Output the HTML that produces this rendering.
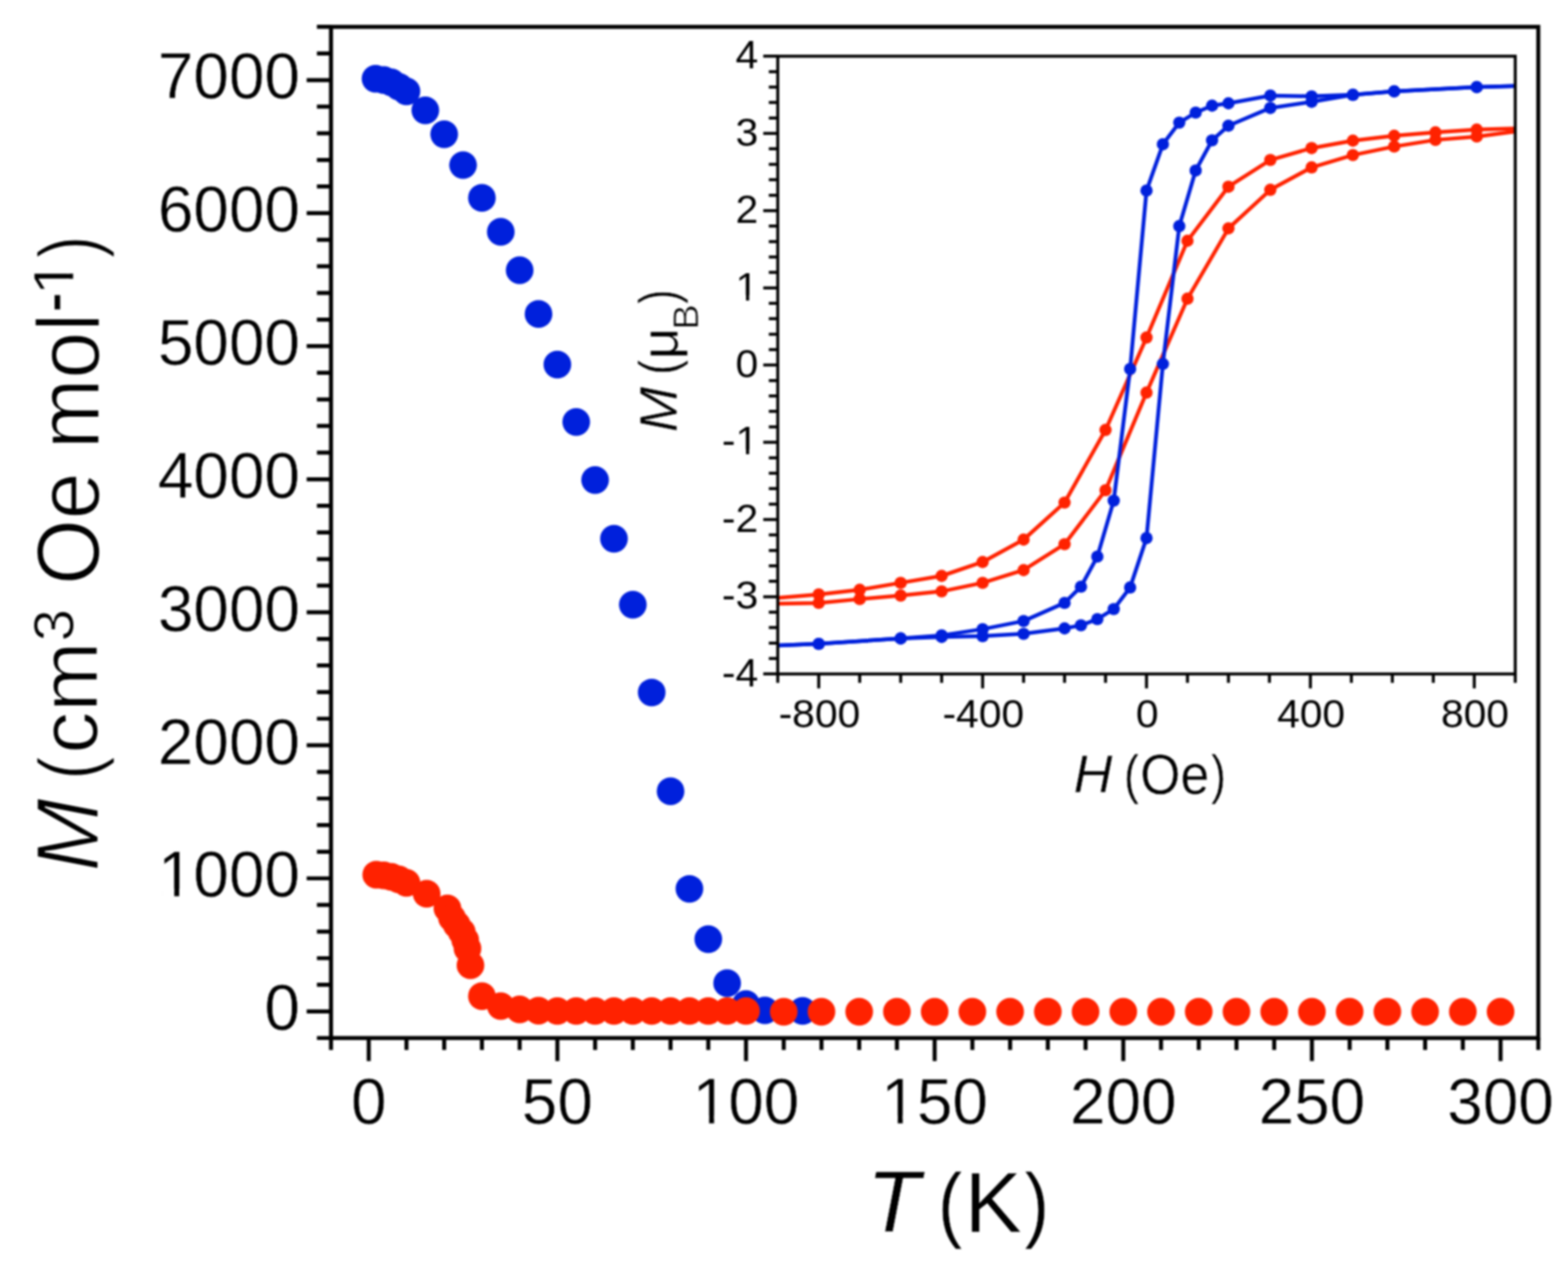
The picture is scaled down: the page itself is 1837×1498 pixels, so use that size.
<!DOCTYPE html>
<html><head><meta charset="utf-8"><title>Magnetization plot</title>
<style>html,body{margin:0;padding:0;background:#fff;width:1837px;height:1498px;overflow:hidden}svg{display:block;filter:blur(1.1px)}text{font-family:"Liberation Sans",Arial,sans-serif;fill:#000;stroke:#fff}.ttl text{stroke-width:1.5px}.ittl text{stroke-width:0.5px}.tk{stroke-width:0.5px}.itk{stroke-width:0px}</style>
</head><body>
<svg width="1837" height="1498" viewBox="0 0 1837 1498">
<rect width="1837" height="1498" fill="#fff"/>
<defs><clipPath id="fc0"><path clip-rule="evenodd" d="M-660,-198H660V198H-660ZM4.51,-8.38H16.95V0.97H4.51ZM22.08,-8.38H34.16V0.97H22.08Z"/></clipPath><clipPath id="fc1"><path clip-rule="evenodd" d="M-720,-216H720V216H-720ZM-155.25,-9.14H-141.68V1.05H-155.25ZM-136.09,-9.14H-122.91V1.05H-136.09Z"/></clipPath><clipPath id="fc2"><path clip-rule="evenodd" d="M-720,-216H720V216H-720ZM-55.14,-9.14H-41.57V1.05H-55.14ZM-35.98,-9.14H-22.80V1.05H-35.98Z"/></clipPath><clipPath id="fc3"><path clip-rule="evenodd" d="M-720,-216H720V216H-720ZM-55.14,-9.14H-41.57V1.05H-55.14ZM-35.98,-9.14H-22.80V1.05H-35.98Z"/></clipPath><clipPath id="fc4"><path clip-rule="evenodd" d="M-464.0,-139.2H464.0V139.2H-464.0ZM-22.63,-5.89H-13.89V0.68H-22.63ZM-10.29,-5.89H-1.79V0.68H-10.29Z"/></clipPath><clipPath id="fc5"><path clip-rule="evenodd" d="M-464.0,-139.2H464.0V139.2H-464.0ZM-22.63,-5.89H-13.89V0.68H-22.63ZM-10.29,-5.89H-1.79V0.68H-10.29Z"/></clipPath></defs>
<rect x="387.80" y="31.46" width="1414.40" height="1184.31" fill="none" stroke="#000" stroke-width="4.7"/>
<path d="M371.30,1215.77H387.80M359.30,1184.60H387.80M371.30,1153.43H387.80M371.30,1122.27H387.80M371.30,1091.10H387.80M371.30,1059.94H387.80M359.30,1028.77H387.80M371.30,997.60H387.80M371.30,966.44H387.80M371.30,935.27H387.80M371.30,904.11H387.80M359.30,872.94H387.80M371.30,841.77H387.80M371.30,810.61H387.80M371.30,779.44H387.80M371.30,748.28H387.80M359.30,717.11H387.80M371.30,685.94H387.80M371.30,654.78H387.80M371.30,623.61H387.80M371.30,592.45H387.80M359.30,561.28H387.80M371.30,530.11H387.80M371.30,498.95H387.80M371.30,467.78H387.80M371.30,436.62H387.80M359.30,405.45H387.80M371.30,374.28H387.80M371.30,343.12H387.80M371.30,311.95H387.80M371.30,280.79H387.80M359.30,249.62H387.80M371.30,218.45H387.80M371.30,187.29H387.80M371.30,156.12H387.80M371.30,124.96H387.80M359.30,93.79H387.80M371.30,62.62H387.80M371.30,31.46H387.80M387.80,1215.77V1229.77M432.00,1215.77V1242.77M476.20,1215.77V1229.77M520.40,1215.77V1229.77M564.60,1215.77V1229.77M608.80,1215.77V1229.77M653.00,1215.77V1242.77M697.20,1215.77V1229.77M741.40,1215.77V1229.77M785.60,1215.77V1229.77M829.80,1215.77V1229.77M874.00,1215.77V1242.77M918.20,1215.77V1229.77M962.40,1215.77V1229.77M1006.60,1215.77V1229.77M1050.80,1215.77V1229.77M1095.00,1215.77V1242.77M1139.20,1215.77V1229.77M1183.40,1215.77V1229.77M1227.60,1215.77V1229.77M1271.80,1215.77V1229.77M1316.00,1215.77V1242.77M1360.20,1215.77V1229.77M1404.40,1215.77V1229.77M1448.60,1215.77V1229.77M1492.80,1215.77V1229.77M1537.00,1215.77V1242.77M1581.20,1215.77V1229.77M1625.40,1215.77V1229.77M1669.60,1215.77V1229.77M1713.80,1215.77V1229.77M1758.00,1215.77V1242.77M1802.20,1215.77V1229.77" stroke="#000" stroke-width="4.7" fill="none"/>
<text transform="translate(351.50,1206.20) scale(1.04,1.06)" class="tk" text-anchor="end" font-size="72">0</text>
<text transform="translate(351.50,1050.37) scale(1.04,1.06)" class="tk" text-anchor="end" font-size="72" clip-path="url(#fc1)">1000</text>
<text transform="translate(351.50,894.54) scale(1.04,1.06)" class="tk" text-anchor="end" font-size="72">2000</text>
<text transform="translate(351.50,738.71) scale(1.04,1.06)" class="tk" text-anchor="end" font-size="72">3000</text>
<text transform="translate(351.50,582.88) scale(1.04,1.06)" class="tk" text-anchor="end" font-size="72">4000</text>
<text transform="translate(351.50,427.05) scale(1.04,1.06)" class="tk" text-anchor="end" font-size="72">5000</text>
<text transform="translate(351.50,271.22) scale(1.04,1.06)" class="tk" text-anchor="end" font-size="72">6000</text>
<text transform="translate(351.50,115.39) scale(1.04,1.06)" class="tk" text-anchor="end" font-size="72">7000</text>
<text transform="translate(432.00,1316.00) scale(1.04,1.06)" class="tk" text-anchor="middle" font-size="72">0</text>
<text transform="translate(653.00,1316.00) scale(1.04,1.06)" class="tk" text-anchor="middle" font-size="72">50</text>
<text transform="translate(874.00,1316.00) scale(1.04,1.06)" class="tk" text-anchor="middle" font-size="72" clip-path="url(#fc2)">100</text>
<text transform="translate(1095.00,1316.00) scale(1.04,1.06)" class="tk" text-anchor="middle" font-size="72" clip-path="url(#fc3)">150</text>
<text transform="translate(1316.00,1316.00) scale(1.04,1.06)" class="tk" text-anchor="middle" font-size="72">200</text>
<text transform="translate(1537.00,1316.00) scale(1.04,1.06)" class="tk" text-anchor="middle" font-size="72">250</text>
<text transform="translate(1758.00,1316.00) scale(1.04,1.06)" class="tk" text-anchor="middle" font-size="72">300</text>
<g class="ttl"><text transform="translate(115.40,1020.79) rotate(-90) scale(1.0300,1.0435)" font-size="100" font-style="italic">M</text>
<text transform="translate(113.97,913.41) rotate(-90) scale(0.8346,0.9777)" font-size="100">(</text>
<text transform="translate(114.44,882.84) rotate(-90) scale(0.9846,0.9618)" font-size="100">cm</text>
<text transform="translate(85.70,751.30) rotate(-90) scale(1.0323,1.0109)" font-size="66" style="stroke-width:1.0px">3</text>
<text transform="translate(116.27,685.04) rotate(-90) scale(0.9881,1.0338)" font-size="100">Oe mol</text>
<text transform="translate(91.50,366.08) rotate(-90) scale(1.0938,1.4400)" font-size="66" style="stroke-width:0.6px">-</text>
<text transform="translate(86.10,345.86) rotate(-90) scale(1.1438,1.0174)" font-size="66" style="stroke-width:0.6px" clip-path="url(#fc0)">1</text>
<text transform="translate(113.97,302.40) rotate(-90) scale(0.8000,0.9777)" font-size="100">)</text>
<text transform="translate(1015.69,1442.60) scale(1.0121,1.0261)" font-size="100" font-style="italic" style="stroke-width:0.5px">T</text>
<text transform="translate(1098.83,1442.71) scale(0.8615,0.9851)" font-size="100" style="stroke-width:0.5px">(</text>
<text transform="translate(1129.96,1442.50) scale(1.0053,1.0101)" font-size="100" style="stroke-width:0.5px">K</text>
<text transform="translate(1200.13,1442.71) scale(0.8692,0.9851)" font-size="100" style="stroke-width:0.5px">)</text></g>
<g fill="#0020dc"><circle cx="439.96" cy="92.23" r="16.2"/><circle cx="449.68" cy="93.79" r="16.2"/><circle cx="458.52" cy="96.44" r="16.2"/><circle cx="467.36" cy="101.58" r="16.2"/><circle cx="476.20" cy="107.04" r="16.2"/><circle cx="498.30" cy="129.32" r="16.2"/><circle cx="520.40" cy="157.21" r="16.2"/><circle cx="542.50" cy="193.37" r="16.2"/><circle cx="564.60" cy="231.70" r="16.2"/><circle cx="586.70" cy="271.44" r="16.2"/><circle cx="608.80" cy="316.47" r="16.2"/><circle cx="630.90" cy="367.74" r="16.2"/><circle cx="653.00" cy="426.95" r="16.2"/><circle cx="675.10" cy="494.27" r="16.2"/><circle cx="697.20" cy="562.21" r="16.2"/><circle cx="719.30" cy="630.94" r="16.2"/><circle cx="741.40" cy="708.23" r="16.2"/><circle cx="763.50" cy="811.08" r="16.2"/><circle cx="785.60" cy="926.70" r="16.2"/><circle cx="807.70" cy="1041.08" r="16.2"/><circle cx="829.80" cy="1099.98" r="16.2"/><circle cx="851.90" cy="1151.56" r="16.2"/><circle cx="874.00" cy="1176.03" r="16.2"/><circle cx="896.10" cy="1183.35" r="16.2"/><circle cx="940.30" cy="1183.98" r="16.2"/></g>
<g fill="#ff2200"><circle cx="440.80" cy="1024.50" r="16.2"/><circle cx="449.70" cy="1025.30" r="16.2"/><circle cx="458.50" cy="1027.00" r="16.2"/><circle cx="467.40" cy="1030.00" r="16.2"/><circle cx="476.20" cy="1034.00" r="16.2"/><circle cx="499.90" cy="1046.80" r="16.2"/><circle cx="524.20" cy="1064.00" r="16.2"/><circle cx="529.50" cy="1075.00" r="16.2"/><circle cx="535.00" cy="1083.00" r="16.2"/><circle cx="541.00" cy="1091.50" r="16.2"/><circle cx="545.00" cy="1101.00" r="16.2"/><circle cx="547.70" cy="1111.00" r="16.2"/><circle cx="551.20" cy="1130.50" r="16.2"/><circle cx="564.60" cy="1166.68" r="16.2"/><circle cx="586.70" cy="1178.37" r="16.2"/><circle cx="608.80" cy="1182.26" r="16.2"/><circle cx="630.90" cy="1183.82" r="16.2"/><circle cx="653.00" cy="1184.13" r="16.2"/><circle cx="675.10" cy="1184.13" r="16.2"/><circle cx="697.20" cy="1184.13" r="16.2"/><circle cx="719.30" cy="1184.13" r="16.2"/><circle cx="741.40" cy="1184.13" r="16.2"/><circle cx="763.50" cy="1184.13" r="16.2"/><circle cx="785.60" cy="1184.13" r="16.2"/><circle cx="807.70" cy="1184.13" r="16.2"/><circle cx="829.80" cy="1184.13" r="16.2"/><circle cx="851.90" cy="1184.13" r="16.2"/><circle cx="874.00" cy="1184.13" r="16.2"/><circle cx="918.20" cy="1185.07" r="16.2"/><circle cx="962.40" cy="1185.07" r="16.2"/><circle cx="1006.60" cy="1185.07" r="16.2"/><circle cx="1050.80" cy="1185.07" r="16.2"/><circle cx="1095.00" cy="1185.07" r="16.2"/><circle cx="1139.20" cy="1185.07" r="16.2"/><circle cx="1183.40" cy="1185.07" r="16.2"/><circle cx="1227.60" cy="1185.07" r="16.2"/><circle cx="1271.80" cy="1185.07" r="16.2"/><circle cx="1316.00" cy="1185.07" r="16.2"/><circle cx="1360.20" cy="1185.07" r="16.2"/><circle cx="1404.40" cy="1185.07" r="16.2"/><circle cx="1448.60" cy="1185.07" r="16.2"/><circle cx="1492.80" cy="1185.07" r="16.2"/><circle cx="1537.00" cy="1185.07" r="16.2"/><circle cx="1581.20" cy="1185.07" r="16.2"/><circle cx="1625.40" cy="1185.07" r="16.2"/><circle cx="1669.60" cy="1185.07" r="16.2"/><circle cx="1713.80" cy="1185.07" r="16.2"/><circle cx="1758.00" cy="1185.07" r="16.2"/></g>
<rect x="911.20" y="65.84" width="864.00" height="723.52" fill="#fff" stroke="none"/>
<clipPath id="ic"><rect x="911.20" y="65.84" width="864.00" height="723.52"/></clipPath>
<g clip-path="url(#ic)"><polyline points="1775.20,150.40 1730.08,151.76 1681.72,155.01 1633.36,158.99 1585.00,164.78 1536.64,173.46 1488.28,187.39 1439.20,218.68 1391.20,281.99 1343.20,395.31 1295.20,503.57 1247.20,588.58 1199.20,631.99 1151.20,658.22 1103.20,674.50 1055.20,682.64 1007.20,690.78 959.20,696.21 911.20,700.28" fill="none" stroke="#ff2200" stroke-width="4.5" stroke-linejoin="round"/><circle cx="1730.08" cy="151.76" r="7.2" fill="#ff2200"/><circle cx="1681.72" cy="155.01" r="7.2" fill="#ff2200"/><circle cx="1633.36" cy="158.99" r="7.2" fill="#ff2200"/><circle cx="1585.00" cy="164.78" r="7.2" fill="#ff2200"/><circle cx="1536.64" cy="173.46" r="7.2" fill="#ff2200"/><circle cx="1488.28" cy="187.39" r="7.2" fill="#ff2200"/><circle cx="1439.20" cy="218.68" r="7.2" fill="#ff2200"/><circle cx="1391.20" cy="281.99" r="7.2" fill="#ff2200"/><circle cx="1343.20" cy="395.31" r="7.2" fill="#ff2200"/><circle cx="1295.20" cy="503.57" r="7.2" fill="#ff2200"/><circle cx="1247.20" cy="588.58" r="7.2" fill="#ff2200"/><circle cx="1199.20" cy="631.99" r="7.2" fill="#ff2200"/><circle cx="1151.20" cy="658.22" r="7.2" fill="#ff2200"/><circle cx="1103.20" cy="674.50" r="7.2" fill="#ff2200"/><circle cx="1055.20" cy="682.64" r="7.2" fill="#ff2200"/><circle cx="1007.20" cy="690.78" r="7.2" fill="#ff2200"/><circle cx="959.20" cy="696.21" r="7.2" fill="#ff2200"/><polyline points="911.20,707.06 959.20,706.16 1007.20,701.63 1055.20,697.56 1103.20,692.59 1151.20,682.64 1199.20,667.72 1247.20,637.42 1295.20,574.11 1343.20,459.80 1391.20,349.82 1439.20,267.52 1488.28,222.30 1536.64,196.07 1585.00,181.60 1633.36,171.65 1681.72,163.88 1730.08,159.90 1775.20,154.02" fill="none" stroke="#ff2200" stroke-width="4.5" stroke-linejoin="round"/><circle cx="959.20" cy="706.16" r="7.2" fill="#ff2200"/><circle cx="1007.20" cy="701.63" r="7.2" fill="#ff2200"/><circle cx="1055.20" cy="697.56" r="7.2" fill="#ff2200"/><circle cx="1103.20" cy="692.59" r="7.2" fill="#ff2200"/><circle cx="1151.20" cy="682.64" r="7.2" fill="#ff2200"/><circle cx="1199.20" cy="667.72" r="7.2" fill="#ff2200"/><circle cx="1247.20" cy="637.42" r="7.2" fill="#ff2200"/><circle cx="1295.20" cy="574.11" r="7.2" fill="#ff2200"/><circle cx="1343.20" cy="459.80" r="7.2" fill="#ff2200"/><circle cx="1391.20" cy="349.82" r="7.2" fill="#ff2200"/><circle cx="1439.20" cy="267.52" r="7.2" fill="#ff2200"/><circle cx="1488.28" cy="222.30" r="7.2" fill="#ff2200"/><circle cx="1536.64" cy="196.07" r="7.2" fill="#ff2200"/><circle cx="1585.00" cy="181.60" r="7.2" fill="#ff2200"/><circle cx="1633.36" cy="171.65" r="7.2" fill="#ff2200"/><circle cx="1681.72" cy="163.88" r="7.2" fill="#ff2200"/><circle cx="1730.08" cy="159.90" r="7.2" fill="#ff2200"/><polyline points="1775.20,100.66 1730.08,102.02 1633.36,106.99 1585.00,111.06 1536.64,112.87 1488.28,111.96 1439.20,121.01 1420.00,123.72 1400.80,131.86 1381.60,143.62 1362.40,168.94 1343.20,223.21 1324.00,432.12 1304.80,586.41 1285.60,651.89 1266.40,687.16 1247.20,706.16 1199.20,727.41 1151.20,736.90 1103.20,744.14 1055.20,747.76 959.20,754.09 911.20,755.90" fill="none" stroke="#0020dc" stroke-width="4.5" stroke-linejoin="round"/><circle cx="1730.08" cy="102.02" r="7.2" fill="#0020dc"/><circle cx="1633.36" cy="106.99" r="7.2" fill="#0020dc"/><circle cx="1585.00" cy="111.06" r="7.2" fill="#0020dc"/><circle cx="1536.64" cy="112.87" r="7.2" fill="#0020dc"/><circle cx="1488.28" cy="111.96" r="7.2" fill="#0020dc"/><circle cx="1439.20" cy="121.01" r="7.2" fill="#0020dc"/><circle cx="1420.00" cy="123.72" r="7.2" fill="#0020dc"/><circle cx="1400.80" cy="131.86" r="7.2" fill="#0020dc"/><circle cx="1381.60" cy="143.62" r="7.2" fill="#0020dc"/><circle cx="1362.40" cy="168.94" r="7.2" fill="#0020dc"/><circle cx="1343.20" cy="223.21" r="7.2" fill="#0020dc"/><circle cx="1324.00" cy="432.12" r="7.2" fill="#0020dc"/><circle cx="1304.80" cy="586.41" r="7.2" fill="#0020dc"/><circle cx="1285.60" cy="651.89" r="7.2" fill="#0020dc"/><circle cx="1266.40" cy="687.16" r="7.2" fill="#0020dc"/><circle cx="1247.20" cy="706.16" r="7.2" fill="#0020dc"/><circle cx="1199.20" cy="727.41" r="7.2" fill="#0020dc"/><circle cx="1151.20" cy="736.90" r="7.2" fill="#0020dc"/><circle cx="1103.20" cy="744.14" r="7.2" fill="#0020dc"/><circle cx="1055.20" cy="747.76" r="7.2" fill="#0020dc"/><circle cx="959.20" cy="754.09" r="7.2" fill="#0020dc"/><polyline points="911.20,755.90 959.20,754.09 1055.20,747.76 1103.20,745.95 1151.20,745.04 1199.20,742.33 1247.20,736.00 1266.40,732.38 1285.60,725.15 1304.80,713.39 1324.00,688.07 1343.20,630.19 1362.40,426.24 1381.60,264.81 1400.80,199.69 1420.00,164.42 1439.20,147.24 1488.28,126.43 1536.64,119.20 1585.00,111.06 1633.36,106.99 1730.08,102.02 1775.20,100.66" fill="none" stroke="#0020dc" stroke-width="4.5" stroke-linejoin="round"/><circle cx="959.20" cy="754.09" r="7.2" fill="#0020dc"/><circle cx="1055.20" cy="747.76" r="7.2" fill="#0020dc"/><circle cx="1103.20" cy="745.95" r="7.2" fill="#0020dc"/><circle cx="1151.20" cy="745.04" r="7.2" fill="#0020dc"/><circle cx="1199.20" cy="742.33" r="7.2" fill="#0020dc"/><circle cx="1247.20" cy="736.00" r="7.2" fill="#0020dc"/><circle cx="1266.40" cy="732.38" r="7.2" fill="#0020dc"/><circle cx="1285.60" cy="725.15" r="7.2" fill="#0020dc"/><circle cx="1304.80" cy="713.39" r="7.2" fill="#0020dc"/><circle cx="1324.00" cy="688.07" r="7.2" fill="#0020dc"/><circle cx="1343.20" cy="630.19" r="7.2" fill="#0020dc"/><circle cx="1362.40" cy="426.24" r="7.2" fill="#0020dc"/><circle cx="1381.60" cy="264.81" r="7.2" fill="#0020dc"/><circle cx="1400.80" cy="199.69" r="7.2" fill="#0020dc"/><circle cx="1420.00" cy="164.42" r="7.2" fill="#0020dc"/><circle cx="1439.20" cy="147.24" r="7.2" fill="#0020dc"/><circle cx="1488.28" cy="126.43" r="7.2" fill="#0020dc"/><circle cx="1536.64" cy="119.20" r="7.2" fill="#0020dc"/><circle cx="1585.00" cy="111.06" r="7.2" fill="#0020dc"/><circle cx="1633.36" cy="106.99" r="7.2" fill="#0020dc"/><circle cx="1730.08" cy="102.02" r="7.2" fill="#0020dc"/></g>
<rect x="911.20" y="65.84" width="864.00" height="723.52" fill="none" stroke="#000" stroke-width="3.5"/>
<path d="M894.20,789.36H911.20M900.70,771.27H911.20M900.70,753.18H911.20M900.70,735.10H911.20M900.70,717.01H911.20M894.20,698.92H911.20M900.70,680.83H911.20M900.70,662.74H911.20M900.70,644.66H911.20M900.70,626.57H911.20M894.20,608.48H911.20M900.70,590.39H911.20M900.70,572.30H911.20M900.70,554.22H911.20M900.70,536.13H911.20M894.20,518.04H911.20M900.70,499.95H911.20M900.70,481.86H911.20M900.70,463.78H911.20M900.70,445.69H911.20M894.20,427.60H911.20M900.70,409.51H911.20M900.70,391.42H911.20M900.70,373.34H911.20M900.70,355.25H911.20M894.20,337.16H911.20M900.70,319.07H911.20M900.70,300.98H911.20M900.70,282.90H911.20M900.70,264.81H911.20M894.20,246.72H911.20M900.70,228.63H911.20M900.70,210.54H911.20M900.70,192.46H911.20M900.70,174.37H911.20M894.20,156.28H911.20M900.70,138.19H911.20M900.70,120.10H911.20M900.70,102.02H911.20M900.70,83.93H911.20M894.20,65.84H911.20M911.20,789.36V799.86M959.20,789.36V806.36M1007.20,789.36V799.86M1055.20,789.36V799.86M1103.20,789.36V799.86M1151.20,789.36V806.36M1199.20,789.36V799.86M1247.20,789.36V799.86M1295.20,789.36V799.86M1343.20,789.36V806.36M1391.20,789.36V799.86M1439.20,789.36V799.86M1487.20,789.36V799.86M1535.20,789.36V806.36M1583.20,789.36V799.86M1631.20,789.36V799.86M1679.20,789.36V799.86M1727.20,789.36V806.36M1775.20,789.36V799.86" stroke="#000" stroke-width="3.5" fill="none"/>
<text class="itk" transform="translate(888.3,803.76) scale(1.03,1.01)" text-anchor="end" font-size="46.4">-4</text>
<text class="itk" transform="translate(888.3,713.32) scale(1.03,1.01)" text-anchor="end" font-size="46.4">-3</text>
<text class="itk" transform="translate(888.3,622.88) scale(1.03,1.01)" text-anchor="end" font-size="46.4">-2</text>
<text class="itk" transform="translate(888.3,532.44) scale(1.03,1.01)" text-anchor="end" font-size="46.4" clip-path="url(#fc4)">-1</text>
<text class="itk" transform="translate(888.3,442.00) scale(1.03,1.01)" text-anchor="end" font-size="46.4">0</text>
<text class="itk" transform="translate(888.3,351.56) scale(1.03,1.01)" text-anchor="end" font-size="46.4" clip-path="url(#fc5)">1</text>
<text class="itk" transform="translate(888.3,261.12) scale(1.03,1.01)" text-anchor="end" font-size="46.4">2</text>
<text class="itk" transform="translate(888.3,170.68) scale(1.03,1.01)" text-anchor="end" font-size="46.4">3</text>
<text class="itk" transform="translate(888.3,80.24) scale(1.03,1.01)" text-anchor="end" font-size="46.4">4</text>
<text class="itk" transform="translate(960.00,852.4) scale(1.03,1.01)" text-anchor="middle" font-size="46.4">-800</text>
<text class="itk" transform="translate(1152.00,852.4) scale(1.03,1.01)" text-anchor="middle" font-size="46.4">-400</text>
<text class="itk" transform="translate(1344.00,852.4) scale(1.03,1.01)" text-anchor="middle" font-size="46.4">0</text>
<text class="itk" transform="translate(1536.00,852.4) scale(1.03,1.01)" text-anchor="middle" font-size="46.4">400</text>
<text class="itk" transform="translate(1728.00,852.4) scale(1.03,1.01)" text-anchor="middle" font-size="46.4">800</text>
<g class="ittl"><text transform="translate(1257.70,928.30) scale(1.0512,1.0537)" font-size="60" font-style="italic">H</text>
<text transform="translate(1316.68,928.88) scale(0.8800,1.0436)" font-size="60">(</text>
<text transform="translate(1335.76,929.50) scale(1.0122,1.1244)" font-size="60">Oe</text>
<text transform="translate(1418.72,928.88) scale(0.8800,1.0436)" font-size="60">)</text>
<text transform="translate(792.80,506.23) rotate(-90) scale(1.0646,1.0488)" font-size="60" font-style="italic">M</text>
<text transform="translate(792.82,439.12) rotate(-90) scale(0.8800,1.0400)" font-size="60">(</text>
<text transform="translate(794.06,420.79) rotate(-90) scale(1.0731,1.0214)" font-size="60">μ</text>
<text transform="translate(817.50,386.31) rotate(-90) scale(1.0696,0.9897)" font-size="42" style="stroke-width:0.8px">B</text>
<text transform="translate(792.82,355.63) rotate(-90) scale(0.8333,1.0400)" font-size="60">)</text></g>
</svg>
</body></html>
